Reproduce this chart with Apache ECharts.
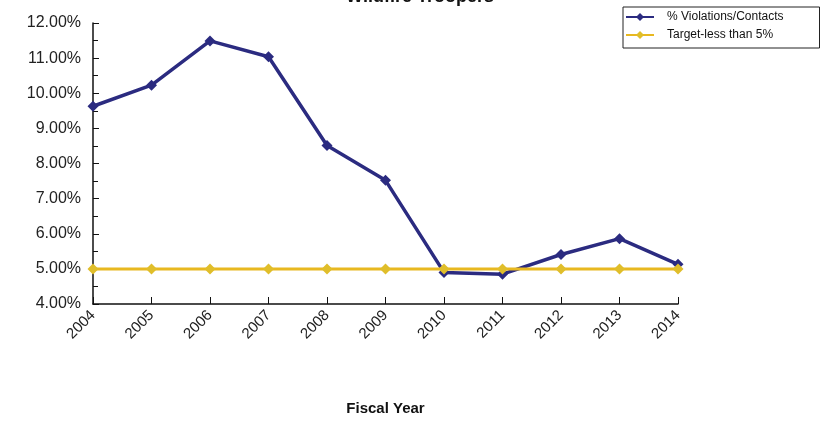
<!DOCTYPE html>
<html>
<head>
<meta charset="utf-8">
<script src="https://cdn.jsdelivr.net/npm/echarts@6/dist/echarts.min.js"></script>
<style>
  html, body { margin: 0; padding: 0; background: #fff; }
  #chart { width: 828px; height: 421px; }
</style>
</head>
<body>
<div id="chart"></div>
<script>
// fiscal years and rates (%)
var years = ['2004','2005','2006','2007','2008','2009','2010','2011','2012','2013','2014'];
var violations = [9.63, 10.23, 11.49, 11.04, 8.51, 7.52, 4.90, 4.85, 5.41, 5.86, 5.13];
var target = [5, 5, 5, 5, 5, 5, 5, 5, 5, 5, 5];

var chart = echarts.init(document.getElementById('chart'));
var font = 'Liberation Sans, Arial, sans-serif';

var option = {
    animation: false,
    backgroundColor: '#fff',
    title: {
        text: 'Wildfire Troopers',
        left: 415,
        top: -17,
        textAlign: 'center',
        textStyle: { fontFamily: font, fontSize: 18, fontWeight: 'bold', color: '#111' }
    },
    legend: {
        left: 623,
        top: 7,
        orient: 'vertical',
        itemGap: 6,
        itemWidth: 28,
        itemHeight: 10,
        padding: [4, 36, 7, 2],
        borderColor: '#222',
        borderWidth: 1,
        textStyle: { fontFamily: font, fontSize: 12, color: '#111', padding: [0, 0, 0, 8] },
        data: ['% Violations/Contacts', 'Target-less than 5%']
    },
    grid: { left: 93, right: 150, top: 23, bottom: 109 },
    xAxis: {
        type: 'category',
        data: years,
        boundaryGap: false,
        name: 'Fiscal Year',
        nameLocation: 'middle',
        nameGap: 97,
        nameTextStyle: { fontFamily: font, fontSize: 15, fontWeight: 'bold', color: '#111' },
        axisLine: { lineStyle: { color: '#111', width: 1.5 } },
        axisTick: { alignWithLabel: true, inside: true, length: 7, lineStyle: { color: '#111' } },
        axisLabel: { rotate: 45, fontFamily: font, fontSize: 15, color: '#222', margin: 9 }
    },
    yAxis: {
        type: 'value',
        min: 4,
        max: 12,
        interval: 1,
        axisLine: { show: true, lineStyle: { color: '#111', width: 1.5 } },
        axisTick: { show: true, inside: true, length: 6, lineStyle: { color: '#111' } },
        minorTick: { show: true, splitNumber: 2, length: 5, lineStyle: { color: '#111' } },
        splitLine: { show: false },
        axisLabel: {
            fontFamily: font, fontSize: 16, color: '#222', margin: 12,
            formatter: function (v) { return v.toFixed(2) + '%'; }
        }
    },
    series: [
        {
            name: '% Violations/Contacts',
            type: 'line',
            data: violations,
            symbol: 'diamond',
            symbolSize: 11,
            lineStyle: { color: '#2b2b80', width: 3.5 },
            itemStyle: { color: '#2b2b80' },
            z: 2
        },
        {
            name: 'Target-less than 5%',
            type: 'line',
            data: target,
            symbol: 'diamond',
            symbolSize: 11,
            lineStyle: { color: '#e8b820', width: 3 },
            itemStyle: { color: '#e0be2a' },
            z: 3
        }
    ]
};
chart.setOption(option);
</script>
</body>
</html>
